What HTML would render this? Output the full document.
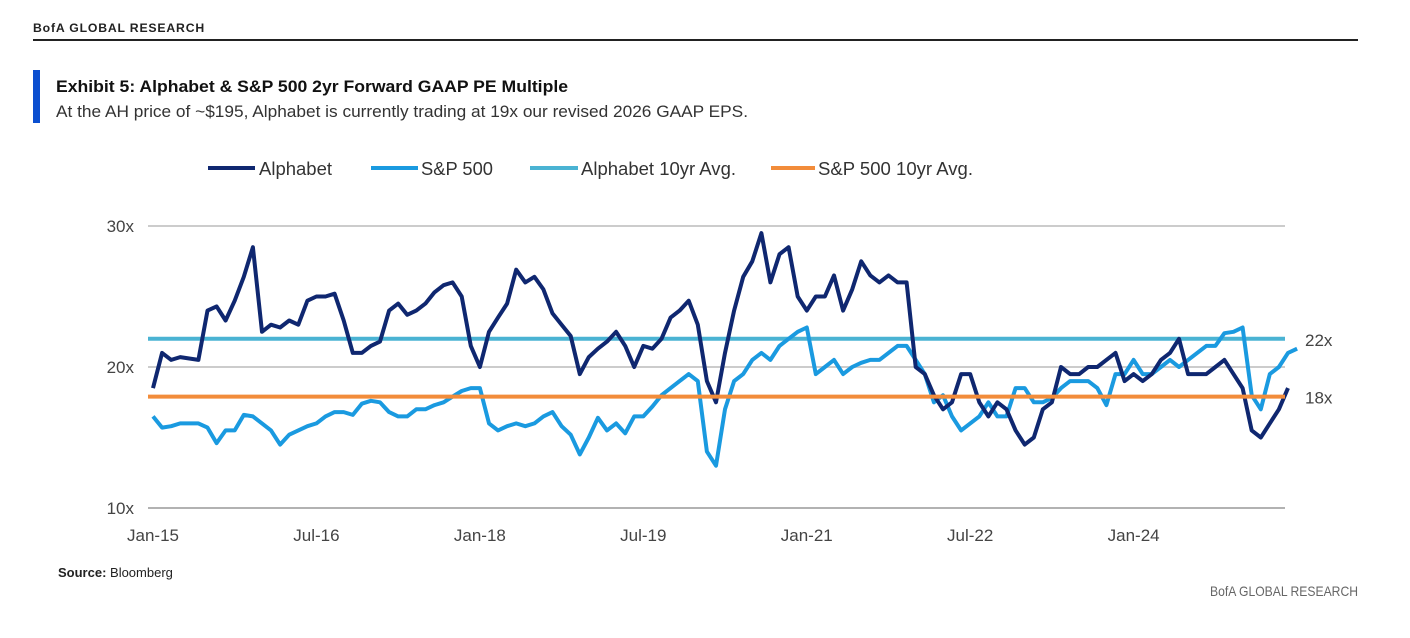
<!DOCTYPE html>
<html><head><meta charset="utf-8"><style>
html,body{margin:0;padding:0;background:#fff;}
svg{display:block;font-family:"Liberation Sans Narrow","Liberation Sans",sans-serif;}
</style></head><body>
<svg id="chart" width="1410" height="638" viewBox="0 0 1410 638">
<text x="33" y="32" font-size="12" font-weight="bold" fill="#222" letter-spacing="0.8" textLength="172" lengthAdjust="spacingAndGlyphs">BofA GLOBAL RESEARCH</text>
<rect x="33" y="39" width="1325" height="2" fill="#222"/>
<rect x="33" y="70" width="7" height="53" fill="#0b4fd0"/>
<text x="56" y="92" font-size="17" font-weight="bold" fill="#111" textLength="512" lengthAdjust="spacingAndGlyphs">Exhibit 5: Alphabet &amp; S&amp;P 500 2yr Forward GAAP PE Multiple</text>
<text x="56" y="117" font-size="17" fill="#333" textLength="692" lengthAdjust="spacingAndGlyphs">At the AH price of ~$195, Alphabet is currently trading at 19x our revised 2026 GAAP EPS.</text>
<g>
<g><line x1="208" y1="168" x2="255" y2="168" stroke="#0f2770" stroke-width="4"/><text x="259" y="175" font-size="18" fill="#333" textLength="73" lengthAdjust="spacingAndGlyphs">Alphabet</text></g>
<g><line x1="371" y1="168" x2="418" y2="168" stroke="#1a9ae0" stroke-width="4"/><text x="421" y="175" font-size="18" fill="#333" textLength="72" lengthAdjust="spacingAndGlyphs">S&amp;P 500</text></g>
<g><line x1="530" y1="168" x2="578" y2="168" stroke="#4ab3d3" stroke-width="4"/><text x="581" y="175" font-size="18" fill="#333" textLength="155" lengthAdjust="spacingAndGlyphs">Alphabet 10yr Avg.</text></g>
<g><line x1="771" y1="168" x2="815" y2="168" stroke="#f28c3a" stroke-width="4"/><text x="818" y="175" font-size="18" fill="#333" textLength="155" lengthAdjust="spacingAndGlyphs">S&amp;P 500 10yr Avg.</text></g>
</g>
<g id="plot"></g>
<text x="58" y="577" font-size="13" fill="#222"><tspan font-weight="bold">Source:</tspan> Bloomberg</text>
<text x="1210" y="596" font-size="14" fill="#666" textLength="148" lengthAdjust="spacingAndGlyphs">BofA GLOBAL RESEARCH</text>
</svg>
<script>
const yTicks=[10,20,30];
const yTickLabels=["10x","20x","30x"];
const xTickMonths=[0,18,36,54,72,90,108];
const xTickLabels=["Jan-15","Jul-16","Jan-18","Jul-19","Jan-21","Jul-22","Jan-24"];
const alphabet=[18.5,21,20.5,20.7,20.6,20.5,24,24.3,23.3,24.7,26.4,28.5,22.5,23,22.8,23.3,23,24.7,25,25,25.2,23.3,21,21,21.5,21.8,24,24.5,23.7,24,24.5,25.3,25.8,26,25,21.5,20,22.5,23.5,24.5,26.9,26,26.4,25.5,23.8,23,22.2,19.5,20.7,21.3,21.8,22.5,21.5,20,21.5,21.3,22,23.5,24,24.7,23,19,17.5,21,24,26.4,27.5,29.5,26,28,28.5,25,24,25,25,26.5,24,25.5,27.5,26.5,26,26.5,26,26,20,19.5,18,17,17.5,19.5,19.5,17.5,16.5,17.5,17,15.5,14.5,15,17,17.5,20,19.5,19.5,20,20,20.5,21,19,19.5,19,19.5,20.5,21,22,19.5,19.5,19.5,20,20.5,19.5,18.5,15.5,15,16,17,18.5];
const sp500=[16.5,15.7,15.8,16,16,16,15.7,14.6,15.5,15.5,16.6,16.5,16,15.5,14.5,15.2,15.5,15.8,16,16.5,16.8,16.8,16.6,17.4,17.6,17.5,16.8,16.5,16.5,17,17,17.3,17.5,17.9,18.3,18.5,18.5,16,15.5,15.8,16,15.8,16,16.5,16.8,15.8,15.2,13.8,15,16.4,15.5,16,15.3,16.5,16.5,17.2,18,18.5,19,19.5,19,14,13,17,19,19.5,20.5,21,20.5,21.5,22,22.5,22.8,19.5,20,20.5,19.5,20,20.3,20.5,20.5,21,21.5,21.5,20.5,19.5,17.5,18,16.5,15.5,16,16.5,17.5,16.5,16.5,18.5,18.5,17.5,17.5,17.8,18.5,19,19,19,18.5,17.3,19.5,19.5,20.5,19.5,19.5,20,20.5,20,20.5,21,21.5,21.5,22.4,22.5,22.8,18,17,19.5,20,21,21.3];
const alphabetAvg=[22];
const sp500Avg=[17.9];
const avgLabels=["22x","18x"];

const NS="http://www.w3.org/2000/svg";
const plot=document.getElementById('plot');
const X0=153,MW=9.08,XL=148,XR=1285;
function xS(m){return X0+m*MW;}
function yS(v){return 367-(v-20)*14.1;}
function mk(tag,attrs,parent){const e=document.createElementNS(NS,tag);for(const k in attrs)e.setAttribute(k,attrs[k]);(parent||plot).appendChild(e);return e;}
yTicks.forEach((t,i)=>{
  const g=mk('line',{x1:XL,x2:XR,y1:yS(t),y2:yS(t),stroke:i===0?'#999':'#ccc','stroke-width':i===0?1.5:2});
  
  
  const tx=mk('text',{x:134,y:yS(t)+6,'font-size':17,fill:'#444','text-anchor':'end'});
  tx.textContent=yTickLabels[i];
  
  
});
xTickMonths.forEach((m,i)=>{
  const tx=mk('text',{x:xS(m),y:541,'font-size':17,fill:'#444','text-anchor':'middle'});
  tx.textContent=xTickLabels[i];
  
  
});
function line(vals,color,name){
  const d=vals.map((v,i)=>(i?'L':'M')+xS(i).toFixed(1)+','+yS(v).toFixed(1)).join('');
  const p=mk('path',{d:d,fill:'none',stroke:color,'stroke-width':4,'stroke-linejoin':'round'});
  
  
}
const a1=mk('line',{x1:XL,x2:XR,y1:yS(alphabetAvg[0]),y2:yS(alphabetAvg[0]),stroke:'#4ab3d3','stroke-width':4});


line(sp500,'#1a9ae0','sp500-line');
line(alphabet,'#0f2770','alphabet-line');
const a2=mk('line',{x1:XL,x2:XR,y1:yS(sp500Avg[0]),y2:yS(sp500Avg[0]),stroke:'#f28c3a','stroke-width':4});


[alphabetAvg[0],sp500Avg[0]].forEach((v,i)=>{
  const tx=mk('text',{x:1305,y:yS(v)+7,'font-size':17,fill:'#444'});
  tx.textContent=avgLabels[i];
  
  
});
</script>
</body></html>
